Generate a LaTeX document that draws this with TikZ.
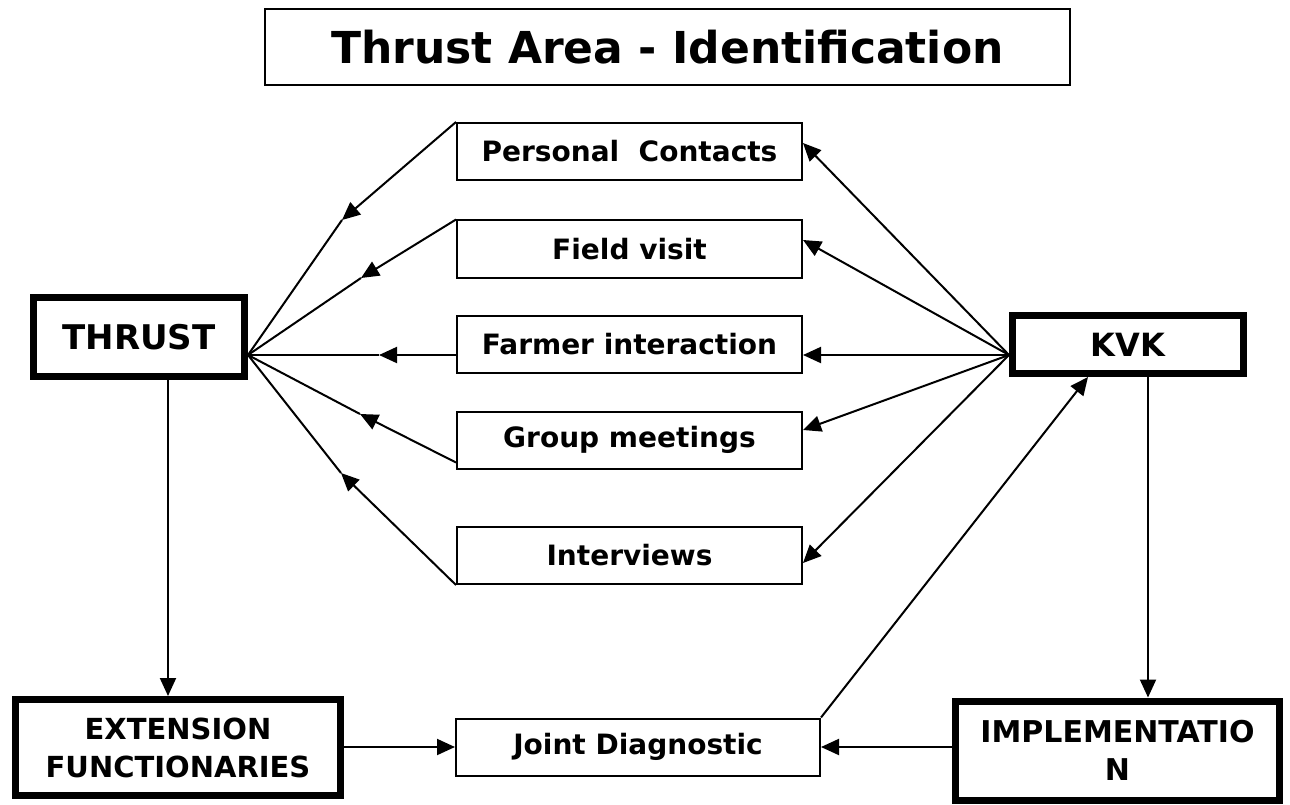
\documentclass[tikz,border=0pt]{standalone}
\usepackage{fontspec}
\setmainfont{DejaVu Sans}
\usetikzlibrary{arrows.meta,calc}

\tikzset{
  box/.style={draw, line width=2pt, minimum width=345pt, minimum height=57pt, inner sep=0pt,
    font=\fontsize{28}{34}\selectfont\bfseries},
  bigbox/.style={draw, line width=7pt, inner sep=0pt, align=center,
    font=\fontsize{29}{38}\selectfont\bfseries},
  conn/.style={line width=2pt},
  arr/.style={conn, -{Triangle[length=18pt,width=16pt]}},
}

\begin{document}
\begin{tikzpicture}[x=1pt, y=-1pt]
        \useasboundingbox (0,0) rectangle (1290,805);

        % Title
        \node[box, minimum width=805pt, minimum height=76pt, font=\fontsize{44}{50}\selectfont\bfseries] (title) at (667.5,47) {Thrust Area - Identification};

        % Methods in the middle
        \node[box] (pc) at (629.5,151.5) {Personal\ \ Contacts};
        \node[box] (fv) at (629.5,249) {Field visit};
        \node[box] (fi) at (629.5,344) {Farmer interaction};
        \node[box] (gm) at (629.5,440) {Group meetings};
        \node[box] (iv) at (629.5,555.5) {Interviews};
        \node[box, minimum width=364pt] (jd) at (638,747) {Joint Diagnostic};

        % Thick boxes
        \node[bigbox, minimum width=211pt, minimum height=79pt, font=\fontsize{34}{40}\selectfont\bfseries] (thrust) at (139,337) {THRUST};
        \node[bigbox, minimum width=231pt, minimum height=58pt, font=\fontsize{32}{40}\selectfont\bfseries] (kvk) at (1128,344.5) {\raisebox{-6pt}{KVK}};
        \node[bigbox, minimum width=325pt, minimum height=96pt] (ext) at (178,747.5) {EXTENSION\\FUNCTIONARIES};
        \node[bigbox, minimum width=324pt, minimum height=99pt, font=\fontsize{30}{38}\selectfont\bfseries] (impl) at (1117.5,750.5) {IMPLEMENTATIO\\N};

        % Meeting points and bends
        \coordinate (th) at (thrust.east |- 0,355);
        \coordinate (kh) at (kvk.west |- 0,355);
        \coordinate (m1) at (342,220);
        \coordinate (m2) at (361,278);
        \coordinate (m3) at (379,355);
        \coordinate (m4) at (360,414);
        \coordinate (m5) at (341,473);

        % Left fan into THRUST
        \draw[arr] (pc.north west) -- (m1);
        \draw[conn] (m1) -- (th);
        \draw[arr] (fv.north west) -- (m2);
        \draw[conn] (m2) -- (th);
        \draw[arr] (fi.west |- th) -- (m3);
        \draw[conn] (m3) -- (th);
        \draw[arr] ($(gm.south west)+(0,-7)$) -- (m4);
        \draw[conn] (m4) -- (th);
        \draw[arr] (iv.south west) -- (m5);
        \draw[conn] (m5) -- (th);

        % Right fan out of KVK
        \draw[arr] (kh) -- (pc.east |- 0,143);
        \draw[arr] (kh) -- (fv.east |- 0,240);
        \draw[arr] (kh) -- (fi.east |- kh);
        \draw[arr] (kh) -- (gm.east |- 0,430);
        \draw[arr] (kh) -- (iv.east |- 0,563);

        % Bottom row
        \draw[arr] (thrust.south -| 168,0) -- (ext.north -| 168,0);
        \draw[arr] (kvk.south -| 1148,0) -- (impl.north -| 1148,0);
        \draw[arr] (ext.east |- jd.west) -- (jd.west);
        \draw[arr] (impl.west |- jd.east) -- (jd.east);
        \draw[arr] (jd.north east) -- (kvk.south -| 1088,0);
\end{tikzpicture}
\end{document}
